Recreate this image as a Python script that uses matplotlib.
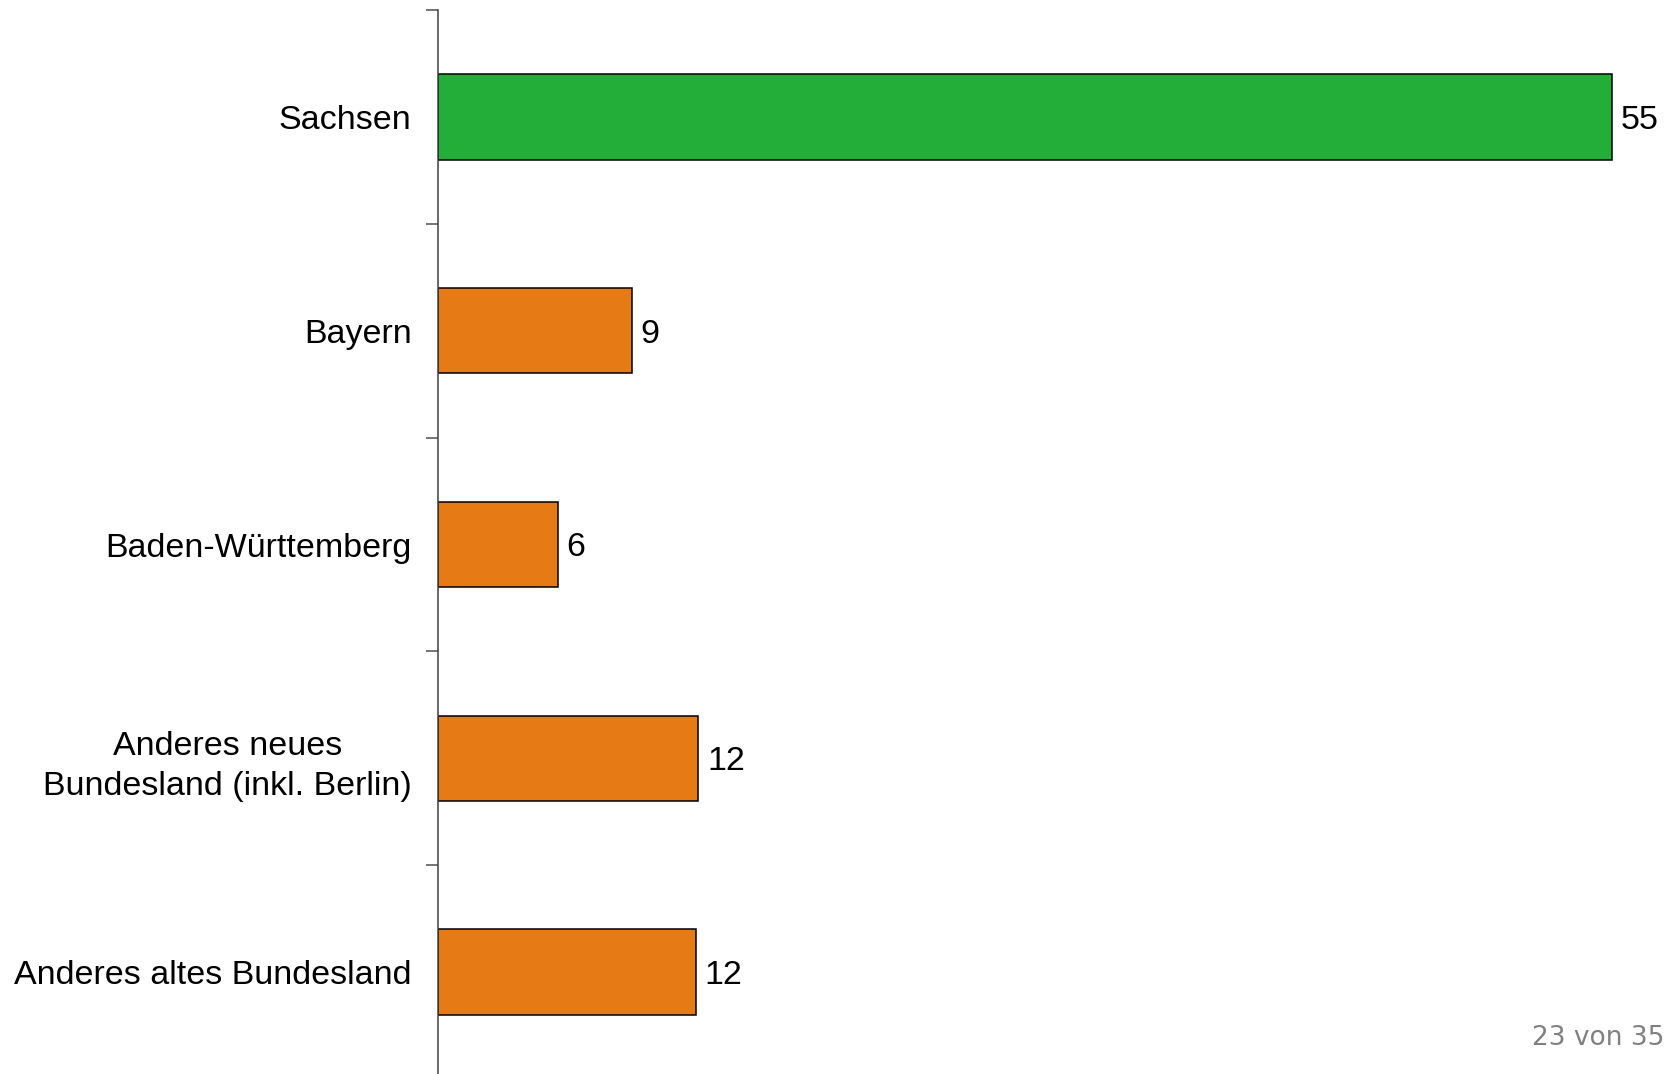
import numpy as np
from matplotlib import pyplot as plt

plt.rcParams["font.family"] = ["Liberation Sans", "DejaVu Sans"]

categories = ["Sachsen", "Bayern", "Baden-Württemberg",
              "Anderes neues\nBundesland (inkl. Berlin)", "Anderes altes Bundesland"]
values = [55.0, 9.1, 5.6, 12.2, 12.1]
colors = ["#22ae39", "#e67b15", "#e67b15", "#e67b15", "#e67b15"]
page_label = "23 von 35"

fig = plt.figure(figsize=(16.72, 10.74), dpi=100)
ax = fig.add_axes([438 / 1672, -5 / 1074, 1234 / 1672, 1069 / 1074])

y = np.arange(len(categories))
ax.barh(y, values, height=0.4, color=colors, edgecolor="black", linewidth=1.1)
ax.set_ylim(len(categories) - 0.5, -0.5)
ax.set_xlim(0, 57.8)

for yi, v in zip(y, values):
    ax.text(v + 0.4, yi, "%d" % round(v), va="center_baseline", ha="left", fontsize=24.5)

for s in ["top", "right", "bottom"]:
    ax.spines[s].set_visible(False)
ax.spines["left"].set_color("#404040")
ax.spines["left"].set_linewidth(1.1)
ax.set_xticks([])

ax.set_yticks(y)
ax.set_yticklabels(categories, fontsize=24.5, multialignment="center", linespacing=1.38)
ax.tick_params(axis="y", which="major", length=0, pad=19)
ax.set_yticks(np.arange(-0.5, len(categories), 1.0), minor=True)
ax.tick_params(axis="y", which="minor", length=8.6, width=1.1, color="#505050")

fig.text(1664 / 1672, 1 - 1045 / 1074, page_label, ha="right", va="baseline",
         fontsize=19, color="#808080", family="DejaVu Sans")

fig.savefig("out.png", dpi=100)
